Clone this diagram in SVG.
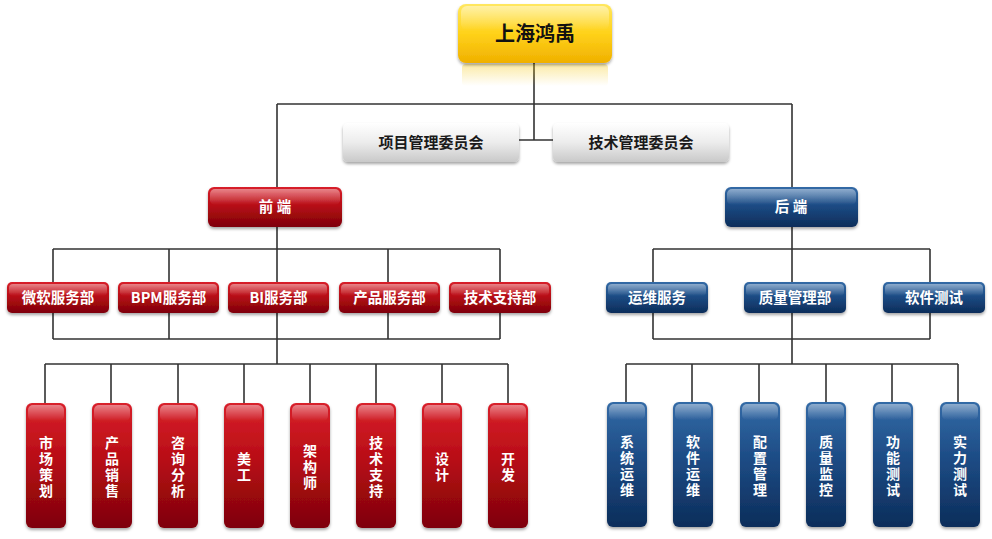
<svg xmlns="http://www.w3.org/2000/svg" width="992" height="539" viewBox="0 0 992 539">
<defs>
<linearGradient id="gRed" x1="0" y1="0" x2="0" y2="1">
<stop offset="0" stop-color="#d8202a"/><stop offset="0.45" stop-color="#b80d16"/><stop offset="1" stop-color="#7e0208"/>
</linearGradient>
<linearGradient id="gBlue" x1="0" y1="0" x2="0" y2="1">
<stop offset="0" stop-color="#336aa6"/><stop offset="0.45" stop-color="#1d4c85"/><stop offset="1" stop-color="#0c2d5a"/>
</linearGradient>
<linearGradient id="gGray" x1="0" y1="0" x2="0" y2="1">
<stop offset="0" stop-color="#ffffff"/><stop offset="0.5" stop-color="#ececec"/><stop offset="1" stop-color="#c9c9c9"/>
</linearGradient>
<linearGradient id="gGold" x1="0" y1="0" x2="0" y2="1">
<stop offset="0" stop-color="#ffe760"/><stop offset="0.5" stop-color="#ffd21a"/><stop offset="1" stop-color="#f0b000"/>
</linearGradient>
<linearGradient id="gShine" x1="0" y1="0" x2="0" y2="1">
<stop offset="0" stop-color="#ffffff" stop-opacity="0.45"/><stop offset="1" stop-color="#ffffff" stop-opacity="0"/>
</linearGradient>
<linearGradient id="gRefl" x1="0" y1="0" x2="0" y2="1">
<stop offset="0" stop-color="#f5c400" stop-opacity="0.35"/><stop offset="1" stop-color="#f5c400" stop-opacity="0"/>
</linearGradient>
<filter id="sh" x="-20%" y="-20%" width="140%" height="150%">
<feDropShadow dx="0" dy="2" stdDeviation="1.8" flood-color="#000" flood-opacity="0.35"/>
</filter>
</defs>
<style>
.ln{fill:none;stroke:#333;stroke-width:1.6}
.red{fill:url(#gRed);filter:url(#sh)}
.blue{fill:url(#gBlue);filter:url(#sh)}
.gray{fill:url(#gGray);filter:url(#sh)}
.gold{fill:url(#gGold);filter:url(#sh)}
.shine{fill:url(#gShine)}
.t{font-family:"Noto Sans CJK SC","Noto Sans",sans-serif;font-weight:bold;text-anchor:middle}
.w{fill:#fff;font-size:14.5px}
.wv{fill:#fff;font-size:14px;writing-mode:vertical-rl;letter-spacing:2px}
.k{fill:#1a1a1a;font-size:15px}
</style>
<rect width="992" height="539" fill="#fff"/>
<g id="connectors">
<path class="ln" d="M534 63V140M519 140H553M277 104H792M277 104V187M792 104V187"/>
<path class="ln" d="M277 227V364M53 249H500M53 249V339M169 249V339M388 249V339M500 249V339M53 339H500"/>
<path class="ln" d="M45 364H508M45 364V403M111 364V403M178 364V403M244 364V403M310 364V403M376 364V403M442 364V403M508 364V403"/>
<path class="ln" d="M792 227V364M653 249H930M653 249V339M930 249V339M653 339H930"/>
<path class="ln" d="M626 364H958M626 364V402M692 364V402M759 364V402M826 364V402M892 364V402M958 364V402"/>
</g>
<g id="n-root">
<rect x="462" y="64" width="146" height="22" rx="4" fill="url(#gRefl)"/>
<rect class="gold" x="458" y="4" width="154" height="59" rx="8"/>
<rect class="shine" x="461" y="6" width="148" height="24" rx="6"/>
<text class="t" x="535" y="41" font-size="20" fill="#111">上海鸿禹</text>
</g>
<g id="n-xmgl">
<rect class="gray" x="343" y="123" width="176" height="39" rx="5"/>
<text class="t k" x="431" y="148">项目管理委员会</text>
</g>
<g id="n-jsgl">
<rect class="gray" x="553" y="123" width="176" height="39" rx="5"/>
<text class="t k" x="641" y="148">技术管理委员会</text>
</g>
<g id="n-qd">
<rect class="red" x="208" y="187" width="134" height="40" rx="6"/>
<rect class="shine" x="210" y="189" width="130" height="16" rx="5"/>
<text class="t w" x="275" y="212" font-size="16">前 端</text>
</g>
<g id="n-hd">
<rect class="blue" x="725" y="187" width="133" height="40" rx="6"/>
<rect class="shine" x="727" y="189" width="129" height="16" rx="5"/>
<text class="t w" x="791" y="212" font-size="16">后 端</text>
</g>
<g id="n-wr">
<rect class="red" x="7" y="282" width="102" height="31" rx="5"/>
<rect class="shine" x="9" y="284" width="98" height="12" rx="4"/>
<text class="t w" x="58" y="303">微软服务部</text>
</g>
<g id="n-bpm">
<rect class="red" x="118" y="282" width="101" height="31" rx="5"/>
<rect class="shine" x="120" y="284" width="97" height="12" rx="4"/>
<text class="t w" x="168.5" y="303">BPM服务部</text>
</g>
<g id="n-bi">
<rect class="red" x="228" y="282" width="101" height="31" rx="5"/>
<rect class="shine" x="230" y="284" width="97" height="12" rx="4"/>
<text class="t w" x="278.5" y="303">BI服务部</text>
</g>
<g id="n-cp">
<rect class="red" x="339" y="282" width="101" height="31" rx="5"/>
<rect class="shine" x="341" y="284" width="97" height="12" rx="4"/>
<text class="t w" x="389.5" y="303">产品服务部</text>
</g>
<g id="n-jszc">
<rect class="red" x="449" y="282" width="102" height="31" rx="5"/>
<rect class="shine" x="451" y="284" width="98" height="12" rx="4"/>
<text class="t w" x="500" y="303">技术支持部</text>
</g>
<g id="n-ywfw">
<rect class="blue" x="606" y="282" width="102" height="31" rx="5"/>
<rect class="shine" x="608" y="284" width="98" height="12" rx="4"/>
<text class="t w" x="657" y="303">运维服务</text>
</g>
<g id="n-zlgl">
<rect class="blue" x="744" y="282" width="102" height="31" rx="5"/>
<rect class="shine" x="746" y="284" width="98" height="12" rx="4"/>
<text class="t w" x="795" y="303">质量管理部</text>
</g>
<g id="n-rjcs">
<rect class="blue" x="883" y="282" width="102" height="31" rx="5"/>
<rect class="shine" x="885" y="284" width="98" height="12" rx="4"/>
<text class="t w" x="934" y="303">软件测试</text>
</g>
<g id="n-scch">
<rect class="red" x="26" y="403" width="40" height="125" rx="6"/>
<rect class="shine" x="28" y="405" width="36" height="16" rx="5"/>
<text class="t wv" x="46" y="468">市场策划</text>
</g>
<g id="n-cpxs">
<rect class="red" x="92" y="403" width="40" height="125" rx="6"/>
<rect class="shine" x="94" y="405" width="36" height="16" rx="5"/>
<text class="t wv" x="112" y="468">产品销售</text>
</g>
<g id="n-zxfx">
<rect class="red" x="158" y="403" width="40" height="125" rx="6"/>
<rect class="shine" x="160" y="405" width="36" height="16" rx="5"/>
<text class="t wv" x="178" y="468">咨询分析</text>
</g>
<g id="n-mg">
<rect class="red" x="224" y="403" width="40" height="125" rx="6"/>
<rect class="shine" x="226" y="405" width="36" height="16" rx="5"/>
<text class="t wv" x="244" y="468">美工</text>
</g>
<g id="n-jgs">
<rect class="red" x="290" y="403" width="40" height="125" rx="6"/>
<rect class="shine" x="292" y="405" width="36" height="16" rx="5"/>
<text class="t wv" x="310" y="468">架构师</text>
</g>
<g id="n-jszc2">
<rect class="red" x="356" y="403" width="40" height="125" rx="6"/>
<rect class="shine" x="358" y="405" width="36" height="16" rx="5"/>
<text class="t wv" x="376" y="468">技术支持</text>
</g>
<g id="n-sj">
<rect class="red" x="422" y="403" width="40" height="125" rx="6"/>
<rect class="shine" x="424" y="405" width="36" height="16" rx="5"/>
<text class="t wv" x="442" y="468">设计</text>
</g>
<g id="n-kf">
<rect class="red" x="488" y="403" width="40" height="125" rx="6"/>
<rect class="shine" x="490" y="405" width="36" height="16" rx="5"/>
<text class="t wv" x="508" y="468">开发</text>
</g>
<g id="n-xtyw">
<rect class="blue" x="607" y="402" width="40" height="125" rx="6"/>
<rect class="shine" x="609" y="404" width="36" height="16" rx="5"/>
<text class="t wv" x="627" y="467">系统运维</text>
</g>
<g id="n-rjyw">
<rect class="blue" x="673" y="402" width="40" height="125" rx="6"/>
<rect class="shine" x="675" y="404" width="36" height="16" rx="5"/>
<text class="t wv" x="693" y="467">软件运维</text>
</g>
<g id="n-pzgl">
<rect class="blue" x="740" y="402" width="40" height="125" rx="6"/>
<rect class="shine" x="742" y="404" width="36" height="16" rx="5"/>
<text class="t wv" x="760" y="467">配置管理</text>
</g>
<g id="n-zljk">
<rect class="blue" x="806" y="402" width="40" height="125" rx="6"/>
<rect class="shine" x="808" y="404" width="36" height="16" rx="5"/>
<text class="t wv" x="826" y="467">质量监控</text>
</g>
<g id="n-gncs">
<rect class="blue" x="873" y="402" width="40" height="125" rx="6"/>
<rect class="shine" x="875" y="404" width="36" height="16" rx="5"/>
<text class="t wv" x="893" y="467">功能测试</text>
</g>
<g id="n-slcs">
<rect class="blue" x="940" y="402" width="40" height="125" rx="6"/>
<rect class="shine" x="942" y="404" width="36" height="16" rx="5"/>
<text class="t wv" x="960" y="467">实力测试</text>
</g>
</svg>
